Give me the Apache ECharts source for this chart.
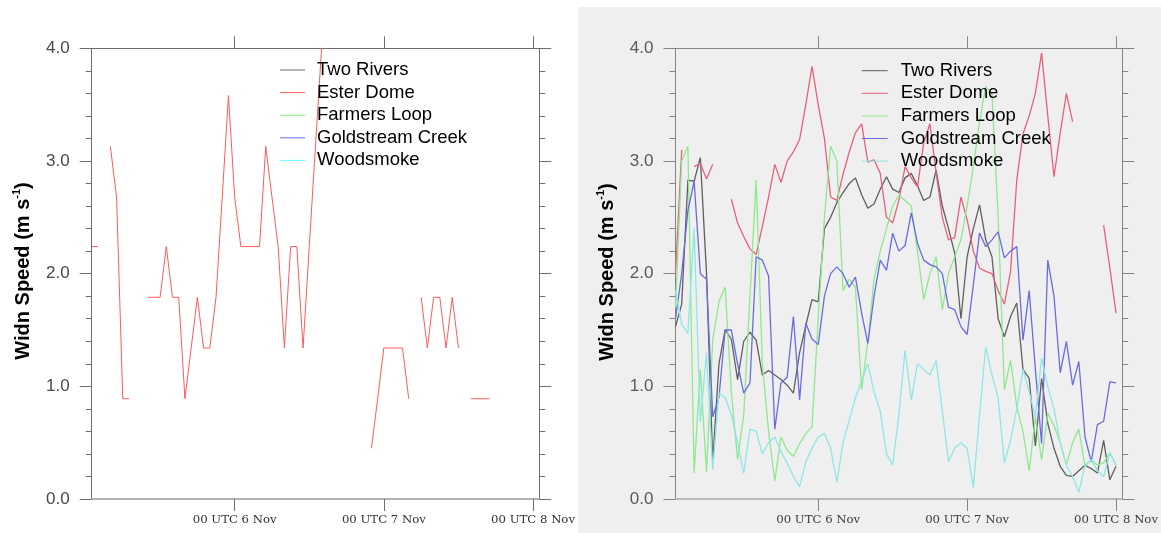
<!DOCTYPE html>
<html>
<head>
<meta charset="utf-8">
<script src="https://cdn.jsdelivr.net/npm/echarts@6/dist/echarts.min.js"></script>
<style>
html,body{margin:0;padding:0;background:#ffffff;width:1161px;height:533px;overflow:hidden;}
#left{position:absolute;left:0;top:0;width:578px;height:533px;background:#ffffff;}
#right{position:absolute;left:578px;top:7px;width:583px;height:526px;background:#efefef;}
</style>
</head>
<body>
<div id="left"></div>
<div id="right"></div>
<script>
// ---------------- DATA ----------------
// hour index 0 = 05 Nov 01 UTC, hourly
const stationNames = ['Two Rivers', 'Ester Dome', 'Farmers Loop', 'Goldstream Creek', 'Woodsmoke'];
const tickHours = [23, 47, 71];
const tickLabels = ['00 UTC 6 Nov', '00 UTC 7 Nov', '00 UTC 8 Nov'];
const yTickLabels = ['0.0', '1.0', '2.0', '3.0', '4.0'];
const yAxisTitle = 'Widn Speed (m s';
const yAxisTitleSup = '-1';

// Left panel: only Ester Dome has data
const leftTwoRivers = [];
const leftEsterDome = [
  2.24, 2.24, null, 3.13, 2.68, 0.89, 0.89, null, null, 1.79,
  1.79, 1.79, 2.24, 1.79, 1.79, 0.89, 1.34, 1.79, 1.34, 1.34,
  1.79, 2.68, 3.58, 2.68, 2.24, 2.24, 2.24, 2.24, 3.13, 2.68,
  2.24, 1.34, 2.24, 2.24, 1.34, 2.24, 3.13, 4.02, null, null,
  null, null, null, null, null, 0.45, 0.89, 1.34, 1.34, 1.34,
  1.34, 0.89, null, 1.79, 1.34, 1.79, 1.79, 1.34, 1.79, 1.34,
  null, 0.89, 0.89, 0.89, 0.89, null, null, null, null, null,
  null, null
];
const leftFarmersLoop = [];
const leftGoldstream = [];
const leftWoodsmoke = [];

// Right panel
const rightTwoRivers = [
  1.53, 1.73, 2.83, 2.82, 3.03, 2.0, 0.33, 1.2, 1.5, 1.42,
  1.06, 1.4, 1.48, 1.41, 1.1, 1.14, 1.1, 1.06, 1.01, 0.94,
  1.3, 1.54, 1.77, 1.75, 2.4, 2.5, 2.63, 2.72, 2.8, 2.85,
  2.7, 2.58, 2.62, 2.75, 2.86, 2.75, 2.72, 2.85, 2.89, 2.78,
  2.65, 2.68, 2.92, 2.6, 2.4, 2.18, 1.6, 2.15, 2.4, 2.61,
  2.3, 2.15, 1.6, 1.44, 1.62, 1.74, 1.15, 1.07, 0.47, 1.07,
  0.67, 0.45, 0.29, 0.21, 0.2, 0.25, 0.3, 0.27, 0.23, 0.52,
  0.17, 0.29
];
const rightEsterDome = [
  2.0, 3.1, null, 2.95, 2.98, 2.84, 2.97, null, null, 2.66,
  2.45, 2.33, 2.22, 2.17, 2.42, 2.68, 2.97, 2.81, 3.0, 3.08,
  3.19, 3.5, 3.84, 3.5, 3.2, 2.68, 2.65, 2.88, 3.08, 3.25,
  3.33, 2.99, 3.01, 2.89, 2.5, 2.45, 2.65, 2.95, 2.85, 2.77,
  3.16, 3.33, 2.9, 2.5, 2.3, 2.32, 2.68, 2.48, 2.2, 2.05,
  2.02, 2.0, 1.85, 1.73, 2.02, 2.83, 3.24, 3.4, 3.6, 3.96,
  3.4, 2.86, 3.25, 3.6, 3.35, null, null, null, null, 2.43,
  2.05, 1.65
];
const rightFarmersLoop = [
  1.7, 3.0, 3.13, 0.23, 1.15, 0.24, 1.41, 1.75, 1.88, 0.95,
  0.35, 0.75, 1.8, 2.83, 1.2, 0.6, 0.16, 0.55, 0.43, 0.38,
  0.49, 0.58, 0.64, 1.6, 2.5, 3.13, 3.0, 1.85, 1.95, 1.88,
  0.97, 1.4, 1.95, 2.2, 2.4, 2.6, 2.7, 2.65, 2.6, 2.2,
  1.77, 2.0, 2.15, 1.68, 2.0, 2.15, 2.3, 2.6, 2.95, 3.35,
  3.66, 3.6, 2.5, 0.97, 1.23, 0.82, 0.6, 0.25, 0.73, 0.35,
  0.76, 0.65, 0.5, 0.3, 0.5, 0.62, 0.29, 0.35, 0.3, 0.32,
  0.41, 0.3
];
const rightGoldstream = [
  1.6, 2.0, 2.56, 2.82, 2.0, 1.95, 0.73, 0.9, 1.5, 1.5,
  1.2, 0.94, 1.03, 2.15, 2.12, 1.98, 0.62, 1.03, 1.08, 1.62,
  0.88, 1.56, 1.42, 1.37, 1.8, 2.0, 2.06, 2.0, 1.88, 1.97,
  1.65, 1.38, 1.8, 2.12, 2.03, 2.36, 2.2, 2.25, 2.54, 2.27,
  2.12, 2.08, 2.06, 2.0, 1.7, 1.68, 1.53, 1.46, 1.9, 2.36,
  2.24, 2.3, 2.37, 2.14, 2.2, 2.24, 1.41, 1.85, 1.15, 0.49,
  2.12, 1.8, 1.12, 1.4, 1.01, 1.22, 0.55, 0.33, 0.66, 0.69,
  1.04, 1.03
];
const rightWoodsmoke = [
  1.85, 1.55, 1.47, 2.4, 0.68, 1.3, 0.26, 0.94, 0.9, 0.75,
  0.5, 0.23, 0.62, 0.6, 0.4, 0.5, 0.55, 0.42, 0.32, 0.2,
  0.11, 0.33, 0.45, 0.55, 0.58, 0.45, 0.15, 0.5, 0.7, 0.9,
  1.05, 1.2, 0.95, 0.78, 0.4, 0.3, 0.75, 1.32, 0.88, 1.2,
  1.15, 1.1, 1.23, 0.78, 0.33, 0.45, 0.5, 0.45, 0.1, 0.75,
  1.35, 1.1, 0.9, 0.32, 0.52, 0.8, 1.15, 0.95, 0.73, 1.25,
  1.0, 0.8, 0.5, 0.3, 0.2, 0.06, 0.3, 0.35, 0.25, 0.2,
  0.41, 0.3
];

// ---------------- CHART BUILDER ----------------
function toPairs(arr) {
  return arr.map(function (v, i) { return [i, v == null ? '-' : v]; });
}

function buildOption(cfg) {
  const axisLine = { show: true, onZero: false, lineStyle: { color: cfg.axisColor, width: 1 } };
  const tickStyle = { color: cfg.axisColor, width: 1 };
  const grid = { left: cfg.gridLeft, top: cfg.gridTop, width: 452, height: 450.7, containLabel: false };
  const xBase = {
    type: 'value', min: 0, max: 72, gridIndex: 0,
    splitLine: { show: false }, minorTick: { show: false }
  };
  const yBase = {
    type: 'value', min: 0, max: 4, interval: 1, gridIndex: 0,
    splitLine: { show: false }
  };
  const series = cfg.data.map(function (d, i) {
    return {
      name: stationNames[i], type: 'line', xAxisIndex: 0, yAxisIndex: 0,
      data: toPairs(d), showSymbol: false, symbol: 'none', connectNulls: false,
      clip: true, silent: true,
      itemStyle: { color: cfg.colors[i] },
      lineStyle: { color: cfg.colors[i], width: cfg.lineWidth }
    };
  });
  return {
    animation: false,
    backgroundColor: 'transparent',
    grid: [grid],
    xAxis: [
      Object.assign({}, xBase, {
        position: 'bottom',
        axisLine: { show: true, onZero: false, lineStyle: { color: cfg.bottomColor, width: 1.6 } },
        axisTick: { show: true, inside: false, length: 12, customValues: tickHours, lineStyle: tickStyle },
        axisLabel: {
          show: true, customValues: tickHours, margin: 15,
          formatter: function (v) { const j = tickHours.indexOf(Math.round(v)); return j >= 0 ? tickLabels[j] : ''; },
          fontFamily: 'DejaVu Serif', fontSize: 11.7, color: cfg.xLabelColor
        }
      }),
      Object.assign({}, xBase, {
        position: 'top',
        axisLine: axisLine,
        axisTick: { show: true, inside: false, length: 12, customValues: tickHours, lineStyle: tickStyle },
        axisLabel: { show: false }
      })
    ],
    yAxis: [
      Object.assign({}, yBase, {
        position: 'left',
        axisLine: axisLine,
        axisTick: { show: true, inside: false, length: 12, lineStyle: tickStyle },
        minorTick: { show: true, splitNumber: 5, length: 6, lineStyle: tickStyle },
        axisLabel: {
          show: true, margin: 22,
          formatter: function (v) { return yTickLabels[Math.round(v)]; },
          fontFamily: 'Liberation Sans', fontSize: 17, color: cfg.yLabelColor
        }
      }),
      Object.assign({}, yBase, {
        position: 'right',
        axisLine: axisLine,
        axisTick: { show: true, inside: false, length: 12, lineStyle: tickStyle },
        minorTick: { show: true, splitNumber: 5, length: 6, lineStyle: tickStyle },
        axisLabel: { show: false }
      })
    ],
    legend: {
      show: true, orient: 'vertical', left: cfg.legendLeft, top: cfg.legendTop,
      padding: 0, itemGap: 0, itemWidth: cfg.legendItemWidth, itemHeight: 1,
      icon: 'rect', selectedMode: false,
      data: stationNames,
      textStyle: {
        fontFamily: 'Liberation Sans', fontSize: 18.5, color: '#000000',
        lineHeight: 22.6, height: 22.6, padding: [0, 0, 0, cfg.legendTextPad]
      }
    },
    graphic: [{
      type: 'text', x: cfg.titleX, y: cfg.titleY, rotation: Math.PI / 2,
      style: {
        text: '{a|' + yAxisTitle + '}{b|' + yAxisTitleSup + '}{a|)}',
        align: 'center', verticalAlign: 'middle',
        rich: {
          a: { fontFamily: 'Liberation Sans', fontWeight: 'bold', fontSize: 20, lineHeight: 24, fill: '#000', color: '#000' },
          b: { fontFamily: 'Liberation Sans', fontWeight: 'bold', fontSize: 11, verticalAlign: 'top', fill: '#000', color: '#000' }
        }
      }
    }],
    series: series
  };
}

const leftChart = echarts.init(document.getElementById('left'), null, { renderer: 'canvas' });
leftChart.setOption(buildOption({
  gridLeft: 91.7, gridTop: 48.3,
  axisColor: '#6e6e6e', bottomColor: '#9a9a9a',
  xLabelColor: '#333333', yLabelColor: '#4a4a4a',
  colors: ['#666666', '#ff5a5a', '#80ee80', '#6868ff', '#66ffff'],
  lineWidth: 1,
  data: [leftTwoRivers, leftEsterDome, leftFarmersLoop, leftGoldstream, leftWoodsmoke],
  legendLeft: 280, legendTop: 58.7, legendItemWidth: 25, legendTextPad: 7,
  titleX: 23.5, titleY: 271
}));

const rightChart = echarts.init(document.getElementById('right'), null, { renderer: 'canvas' });
rightChart.setOption(buildOption({
  gridLeft: 97.5, gridTop: 41.3,
  axisColor: '#858585', bottomColor: '#a8a8a8',
  xLabelColor: '#3c3c3c', yLabelColor: '#5a5a5a',
  colors: ['#5f5f5f', '#e8607c', '#8ee88e', '#6a6ae2', '#8fe6e6'],
  lineWidth: 1.3,
  data: [rightTwoRivers, rightEsterDome, rightFarmersLoop, rightGoldstream, rightWoodsmoke],
  legendLeft: 283.7, legendTop: 52.4, legendItemWidth: 26, legendTextPad: 8,
  titleX: 29, titleY: 265
}));
</script>
</body>
</html>
